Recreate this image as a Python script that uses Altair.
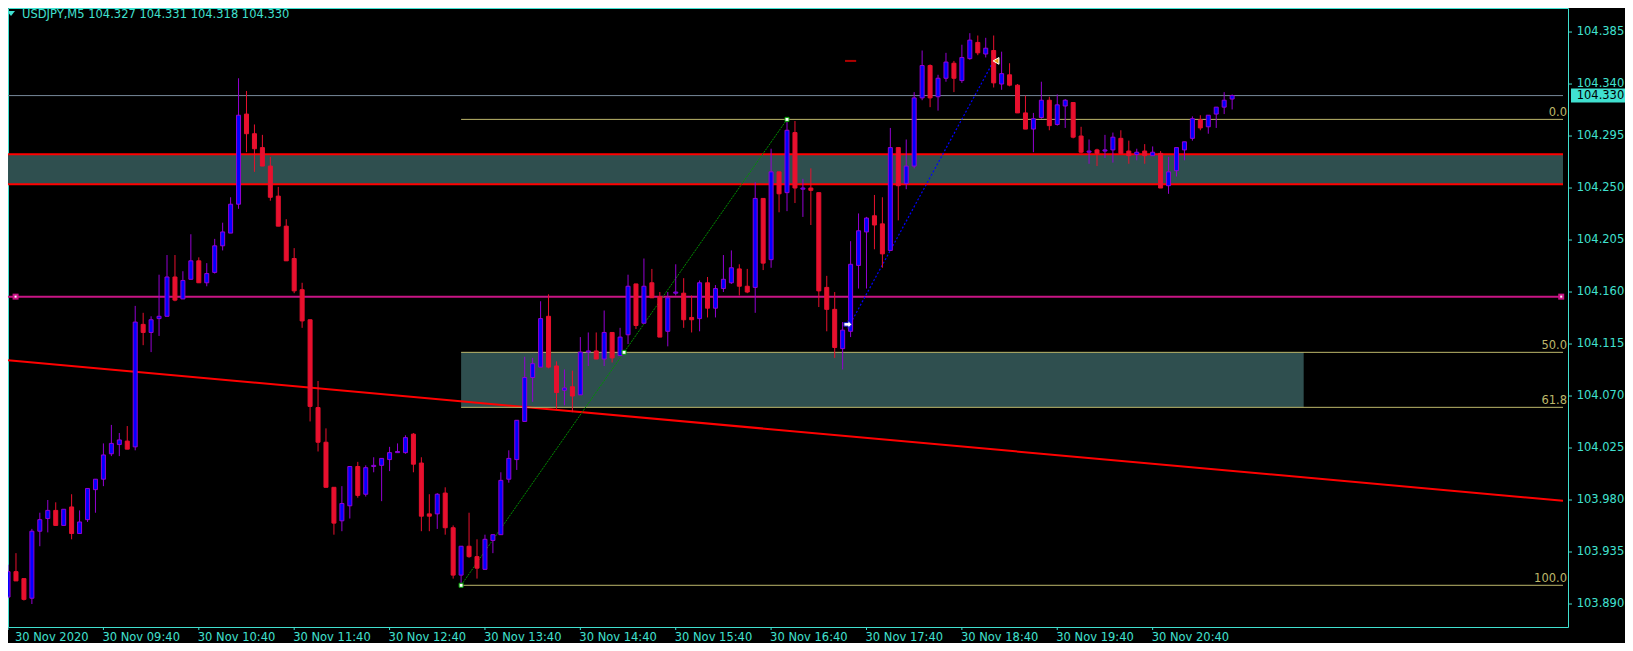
import altair as alt
import pandas as pd

# ---------------- data ----------------
opens = [103.896, 103.918, 103.912, 103.895, 103.953, 103.964, 103.971, 103.958, 103.974, 103.951,
         103.963, 103.989, 103.998, 104.020, 104.028, 104.031, 104.026, 104.132, 104.125, 104.137,
         104.139, 104.173, 104.154, 104.171, 104.187, 104.168, 104.177, 104.200, 104.211, 104.236,
         104.314, 104.297, 104.285, 104.269, 104.243, 104.217, 104.189, 104.162, 104.136, 104.060,
         104.030, 103.991, 103.962, 103.975, 104.009, 103.985, 104.009, 104.010, 104.015, 104.021,
         104.021, 104.037, 104.012, 103.968, 103.968, 103.986, 103.956, 103.915, 103.940, 103.931,
         103.920, 103.945, 103.950, 103.998, 104.015, 104.048, 104.086, 104.095, 104.139, 104.096,
         104.075, 104.078, 104.071, 104.108, 104.109, 104.102, 104.125, 104.105, 104.123, 104.167,
         104.133, 104.168, 104.156, 104.126, 104.159, 104.159, 104.138, 104.137, 104.168, 104.146,
         104.163, 104.168, 104.180, 104.165, 104.164, 104.241, 104.188, 104.264, 104.246, 104.298,
         104.249, 104.250, 104.246, 104.164, 104.145, 104.111, 104.126, 104.183, 104.212, 104.226,
         104.219, 104.196, 104.285, 104.254, 104.269, 104.328, 104.356, 104.329, 104.345, 104.358,
         104.343, 104.362, 104.376, 104.366, 104.369, 104.340, 104.348, 104.339, 104.315, 104.301,
         104.311, 104.326, 104.305, 104.321, 104.324, 104.295, 104.281, 104.283, 104.282, 104.283,
         104.293, 104.282, 104.279, 104.282, 104.278, 104.280, 104.252, 104.265, 104.283, 104.293,
         104.309, 104.303, 104.314, 104.320, 104.327]
highs = [103.924, 103.934, 103.912, 103.955, 103.969, 103.980, 103.978, 103.972, 103.985, 103.971,
         103.990, 103.998, 104.029, 104.045, 104.038, 104.044, 104.148, 104.142, 104.139, 104.175,
         104.192, 104.192, 104.178, 104.210, 104.190, 104.185, 104.206, 104.220, 104.242, 104.345,
         104.334, 104.305, 104.296, 104.277, 104.251, 104.223, 104.198, 104.168, 104.136, 104.083,
         104.042, 103.991, 103.992, 104.009, 104.013, 104.010, 104.017, 104.016, 104.026, 104.029,
         104.036, 104.038, 104.017, 103.985, 103.986, 103.991, 103.958, 103.940, 103.969, 103.946,
         103.950, 103.950, 104.004, 104.023, 104.049, 104.104, 104.103, 104.152, 104.158, 104.100,
         104.093, 104.092, 104.121, 104.125, 104.125, 104.144, 104.125, 104.129, 104.175, 104.167,
         104.189, 104.180, 104.160, 104.160, 104.184, 104.172, 104.157, 104.170, 104.173, 104.166,
         104.192, 104.196, 104.184, 104.180, 104.255, 104.241, 104.284, 104.264, 104.309, 104.308,
         104.258, 104.267, 104.246, 104.174, 104.160, 104.134, 104.204, 104.228, 104.225, 104.244,
         104.242, 104.302, 104.285, 104.292, 104.333, 104.369, 104.357, 104.348, 104.367, 104.360,
         104.374, 104.384, 104.382, 104.380, 104.382, 104.368, 104.358, 104.340, 104.330, 104.315,
         104.342, 104.329, 104.331, 104.327, 104.324, 104.303, 104.292, 104.284, 104.296, 104.298,
         104.300, 104.291, 104.284, 104.288, 104.286, 104.282, 104.277, 104.285, 104.290, 104.312,
         104.313, 104.313, 104.320, 104.333, 104.331]
lows = [103.896, 103.910, 103.893, 103.890, 103.940, 103.952, 103.958, 103.958, 103.946, 103.951,
        103.961, 103.969, 103.992, 104.018, 104.018, 104.024, 104.023, 104.114, 104.108, 104.122,
        104.139, 104.152, 104.154, 104.171, 104.168, 104.165, 104.176, 104.196, 104.211, 104.232,
        104.281, 104.264, 104.269, 104.239, 104.217, 104.187, 104.159, 104.129, 104.048, 104.022,
        103.991, 103.950, 103.953, 103.964, 103.982, 103.983, 104.004, 103.979, 104.005, 104.021,
        104.020, 104.004, 103.953, 103.953, 103.955, 103.950, 103.912, 103.906, 103.930, 103.912,
        103.920, 103.934, 103.950, 103.995, 104.006, 104.048, 104.065, 104.095, 104.094, 104.059,
        104.062, 104.056, 104.071, 104.096, 104.102, 104.096, 104.099, 104.105, 104.115, 104.128,
        104.133, 104.155, 104.121, 104.113, 104.157, 104.129, 104.125, 104.126, 104.138, 104.138,
        104.160, 104.167, 104.157, 104.159, 104.142, 104.179, 104.181, 104.229, 104.230, 104.237,
        104.225, 104.218, 104.147, 104.126, 104.103, 104.093, 104.121, 104.163, 104.163, 104.197,
        104.181, 104.196, 104.222, 104.249, 104.267, 104.326, 104.320, 104.317, 104.342, 104.333,
        104.341, 104.361, 104.365, 104.363, 104.337, 104.335, 104.338, 104.315, 104.301, 104.281,
        104.310, 104.300, 104.304, 104.302, 104.293, 104.280, 104.271, 104.269, 104.276, 104.272,
        104.280, 104.271, 104.274, 104.271, 104.278, 104.250, 104.245, 104.260, 104.274, 104.291,
        104.300, 104.297, 104.302, 104.314, 104.318]
closes = [103.918, 103.910, 103.894, 103.953, 103.963, 103.971, 103.958, 103.972, 103.951, 103.961,
          103.990, 103.998, 104.019, 104.029, 104.032, 104.024, 104.134, 104.125, 104.136, 104.139,
          104.173, 104.153, 104.170, 104.187, 104.168, 104.176, 104.200, 104.212, 104.236, 104.313,
          104.297, 104.284, 104.269, 104.242, 104.217, 104.187, 104.161, 104.135, 104.061, 104.030,
          103.991, 103.960, 103.977, 104.009, 103.984, 104.008, 104.010, 104.016, 104.021, 104.022,
          104.034, 104.011, 103.966, 103.966, 103.985, 103.956, 103.915, 103.940, 103.931, 103.921,
          103.946, 103.950, 103.997, 104.016, 104.049, 104.086, 104.098, 104.137, 104.095, 104.073,
          104.077, 104.070, 104.108, 104.109, 104.102, 104.125, 104.103, 104.121, 104.165, 104.131,
          104.165, 104.155, 104.121, 104.155, 104.160, 104.136, 104.136, 104.168, 104.146, 104.163,
          104.171, 104.181, 104.165, 104.160, 104.241, 104.185, 104.264, 104.245, 104.300, 104.250,
          104.250, 104.248, 104.161, 104.145, 104.112, 104.127, 104.184, 104.213, 104.224, 104.218,
          104.193, 104.285, 104.252, 104.269, 104.328, 104.356, 104.328, 104.345, 104.359, 104.345,
          104.363, 104.378, 104.367, 104.371, 104.341, 104.349, 104.339, 104.315, 104.301, 104.310,
          104.326, 104.304, 104.322, 104.326, 104.294, 104.281, 104.282, 104.280, 104.283, 104.294,
          104.280, 104.278, 104.281, 104.278, 104.281, 104.250, 104.264, 104.285, 104.290, 104.310,
          104.302, 104.313, 104.320, 104.326, 104.330]

x_tick_index = [0, 12, 24, 36, 48, 60, 72, 84, 96, 108, 120, 132, 144]
x_tick_labels = ["30 Nov 2020", "30 Nov 09:40", "30 Nov 10:40", "30 Nov 11:40", "30 Nov 12:40",
                 "30 Nov 13:40", "30 Nov 14:40", "30 Nov 15:40", "30 Nov 16:40", "30 Nov 17:40",
                 "30 Nov 18:40", "30 Nov 19:40", "30 Nov 20:40"]
y_tick_values = [104.385, 104.340, 104.295, 104.250, 104.205, 104.160, 104.115, 104.070,
                 104.025, 103.980, 103.935, 103.890]

title_text = "USDJPY,M5 104.327 104.331 104.318 104.330"
bid_price = 104.330

zone_start, zone_end = [0.0], [195.625]
zone_low, zone_high = [104.2532], [104.2792]

fib_levels = ["0.0", "50.0", "61.8", "100.0"]
fib_prices = [104.3094, 104.1078, 104.0602, 103.9062]
fib_anchor_index = [57, 77.5, 98]
fib_anchor_price = [103.9062, 104.1078, 104.3094]
fib_box_start, fib_box_end = [57], [163]

magenta_price = 104.156
magenta_anchor_index = [0.95, 195.4]

trend_index = [0.0, 195.625]
trend_price = [104.1009, 103.9793]

trade_index = [106, 124]
trade_price = [104.133, 104.360]
open_marker = ([105.66], [104.132])
close_marker = ([124.3], [104.360])
tp_dash_index = ([105.3], [106.7])
tp_dash_price = [104.360]

# ---------------- style ----------------
TURQ = "#40E0D0"
BULL_FILL = "#0000FF"
BULL_LINE = "#9400D3"
BEAR = "#E8102E"
ZONE = "#2F4F4F"
FIB = "#BDB76B"
MAGENTA = "#C71585"
FONT = "DejaVu Sans"
FS = 11.5

W, H = 1560, 619
xscale = alt.Scale(domain=[0.625, 195.625], nice=False, zero=False)
yscale = alt.Scale(domain=[103.8701, 104.4058], nice=False, zero=False)

n = len(opens)
df = pd.DataFrame({"i": list(range(n)), "o": opens, "h": highs, "l": lows, "c": closes})
df["dir"] = ["up" if c >= o else "down" for o, c in zip(opens, closes)]

X = alt.X("i:Q", scale=xscale, axis=None)


def YP(field):
    return alt.Y(field, scale=yscale, axis=None)


# zone rectangle
zone_df = pd.DataFrame({"a": zone_start, "b": zone_end, "lo": zone_low, "hi": zone_high})
zone = alt.Chart(zone_df).mark_rect(color=ZONE, clip=True).encode(
    x=alt.X("a:Q", scale=xscale, axis=None), x2="b:Q", y=YP("lo:Q"), y2="hi:Q")
zone_lines_df = pd.DataFrame({"a": zone_start * 2, "b": zone_end * 2, "p": zone_low + zone_high})
zone_lines = alt.Chart(zone_lines_df).mark_rule(color="#FF0000", strokeWidth=2, clip=True).encode(
    x=alt.X("a:Q", scale=xscale, axis=None), x2="b:Q", y=YP("p:Q"))

# fib box
fib_box_df = pd.DataFrame({"a": fib_box_start, "b": fib_box_end,
                           "lo": [fib_prices[2]], "hi": [fib_prices[1]]})
fib_box = alt.Chart(fib_box_df).mark_rect(color=ZONE).encode(
    x=alt.X("a:Q", scale=xscale, axis=None), x2="b:Q", y=YP("lo:Q"), y2="hi:Q")

fib_df = pd.DataFrame({"a": [fib_anchor_index[0]] * 4, "b": [zone_end[0]] * 4,
                       "p": fib_prices, "lab": fib_levels})
fib_lines = alt.Chart(fib_df).mark_rule(color=FIB, strokeWidth=1, clip=True).encode(
    x=alt.X("a:Q", scale=xscale, axis=None), x2="b:Q", y=YP("p:Q"))
fib_text = alt.Chart(fib_df).mark_text(color=FIB, font=FONT, fontSize=FS, align="right",
                                       baseline="bottom", dy=-1).encode(
    x=alt.value(W - 1), y=YP("p:Q"), text="lab:N")

fib_diag_df = pd.DataFrame({"i": [fib_anchor_index[0], fib_anchor_index[2]],
                            "p": [fib_anchor_price[0], fib_anchor_price[2]]})
fib_diag = alt.Chart(fib_diag_df).mark_line(color="#009000", strokeWidth=1, strokeDash=[2, 1]).encode(
    x=alt.X("i:Q", scale=xscale, axis=None), y=YP("p:Q"))

# horizontal lines
hl_df = pd.DataFrame({"a": [zone_start[0]], "b": [zone_end[0]], "p": [bid_price]})
bid_line = alt.Chart(hl_df).mark_rule(color="#778899", strokeWidth=1, clip=True).encode(
    x=alt.X("a:Q", scale=xscale, axis=None), x2="b:Q", y=YP("p:Q"))
mg_df = pd.DataFrame({"a": [zone_start[0]], "b": [zone_end[0]], "p": [magenta_price]})
mg_line = alt.Chart(mg_df).mark_rule(color=MAGENTA, strokeWidth=2, clip=True).encode(
    x=alt.X("a:Q", scale=xscale, axis=None), x2="b:Q", y=YP("p:Q"))
mg_pts_df = pd.DataFrame({"i": magenta_anchor_index, "p": [magenta_price] * 2})
mg_pts = alt.Chart(mg_pts_df).mark_square(color=MAGENTA, size=36, opacity=1).encode(
    x=alt.X("i:Q", scale=xscale, axis=None), y=YP("p:Q"))
mg_pts2 = alt.Chart(mg_pts_df).mark_square(color="white", size=4, opacity=1).encode(
    x=alt.X("i:Q", scale=xscale, axis=None), y=YP("p:Q"))

# trend line
tr_df = pd.DataFrame({"i": trend_index, "p": trend_price})
trend = alt.Chart(tr_df).mark_line(color="#FF0000", strokeWidth=2, clip=True).encode(
    x=alt.X("i:Q", scale=xscale, axis=None), y=YP("p:Q"))

# trade line
td_df = pd.DataFrame({"i": trade_index, "p": trade_price})
trade = alt.Chart(td_df).mark_line(color="#0000FF", strokeWidth=1.2, strokeDash=[2, 2]).encode(
    x=alt.X("i:Q", scale=xscale, axis=None), y=YP("p:Q"))

# candles
updown = ["up", "down"]
wick = alt.Chart(df).mark_rule(strokeWidth=1, clip=True).encode(
    x=X, y=YP("l:Q"), y2="h:Q",
    stroke=alt.Stroke("dir:N", scale=alt.Scale(domain=updown, range=[BULL_LINE, BEAR]), legend=None))
body = alt.Chart(df).mark_bar(size=4, strokeWidth=1, clip=True).encode(
    x=X, y=YP("o:Q"), y2="c:Q",
    fill=alt.Fill("dir:N", scale=alt.Scale(domain=updown, range=[BULL_FILL, BEAR]), legend=None),
    stroke=alt.Stroke("dir:N", scale=alt.Scale(domain=updown, range=[BULL_LINE, BEAR]), legend=None))

# fib anchors
fa_df = pd.DataFrame({"i": fib_anchor_index, "p": fib_anchor_price})
fib_anchors = alt.Chart(fa_df).mark_square(size=16, fill="white", stroke="#00A000", strokeWidth=1,
                                           opacity=1).encode(
    x=alt.X("i:Q", scale=xscale, axis=None), y=YP("p:Q"))

# trade markers
om_df = pd.DataFrame({"i": open_marker[0], "p": open_marker[1]})
arrow_path = "M-1,-0.45 L0.05,-0.45 L0.05,-1 L1,0 L0.05,1 L0.05,0.45 L-1,0.45 Z"
open_m = alt.Chart(om_df).mark_point(shape=arrow_path, size=64, filled=True, fill="white",
                                     stroke="#1010C0", strokeWidth=1, opacity=1).encode(
    x=alt.X("i:Q", scale=xscale, axis=None), y=YP("p:Q"))
cm_df = pd.DataFrame({"i": close_marker[0], "p": close_marker[1]})
close_m = alt.Chart(cm_df).mark_point(shape="triangle-left", size=45, filled=True, fill="#E8A317",
                                      stroke="white", strokeWidth=1, opacity=1).encode(
    x=alt.X("i:Q", scale=xscale, axis=None), y=YP("p:Q"))
tp_df = pd.DataFrame({"a": tp_dash_index[0], "b": tp_dash_index[1], "p": tp_dash_price})
tp = alt.Chart(tp_df).mark_rule(color="#B00000", strokeWidth=2).encode(
    x=alt.X("a:Q", scale=xscale, axis=None), x2="b:Q", y=YP("p:Q"))

# x axis (MT4 style, left-aligned labels)
xl_df = pd.DataFrame({"i": x_tick_index, "lab": x_tick_labels})
x_ticks = alt.Chart(xl_df).mark_rule(color=TURQ, strokeWidth=1).encode(
    x=alt.X("i:Q", scale=xscale, axis=None), y=alt.value(H), y2=alt.value(H + 3))
x_labels = alt.Chart(xl_df).transform_calculate(xp="max(datum.i, 1.0)").mark_text(
    color=TURQ, font=FONT, fontSize=FS, align="left", baseline="middle", dx=-1).encode(
    x=alt.X("xp:Q", scale=xscale, axis=None), y=alt.value(H + 11), text="lab:N")

# y axis (right side)
yl_df = pd.DataFrame({"p": y_tick_values, "lab": [f"{v:.3f}" for v in y_tick_values]})
y_ticks = alt.Chart(yl_df).mark_rule(color=TURQ, strokeWidth=1).encode(
    x=alt.value(W), x2=alt.value(W + 4), y=YP("p:Q"))
y_labels = alt.Chart(yl_df).mark_text(color=TURQ, font=FONT, fontSize=FS, align="left",
                                      baseline="middle").encode(
    x=alt.value(W + 8.7), y=YP("p:Q"), text="lab:N")

# price box on the right axis
pb_df = pd.DataFrame({"p": [bid_price], "lab": [f"{bid_price:.3f}"]})
price_box = alt.Chart(pb_df).mark_rule(color=TURQ, strokeWidth=14, strokeCap="butt").encode(
    x=alt.value(W + 3), x2=alt.value(W + 59), y=YP("p:Q"))
price_txt = alt.Chart(pb_df).mark_text(color="black", font=FONT, fontSize=FS, align="left",
                                       baseline="middle").encode(
    x=alt.value(W + 8.7), y=YP("p:Q"), text="lab:N")

# title
t_df = pd.DataFrame({"t": [title_text]})
title = alt.Chart(t_df).mark_text(color=TURQ, font=FONT, fontSize=FS, align="left",
                                  baseline="alphabetic").encode(
    x=alt.value(14), y=alt.value(10), text="t:N")
tri = alt.Chart(t_df).mark_point(shape="M-1,-0.6 L1,-0.6 L0,0.6 Z", size=64, filled=True,
                                 color=TURQ, opacity=1).encode(x=alt.value(3), y=alt.value(5.5))

chart = alt.layer(
    zone, fib_box, trend, zone_lines, fib_lines, bid_line, mg_line, fib_diag, trade,
    wick, body, fib_anchors, mg_pts, mg_pts2, open_m, close_m, tp,
    fib_text, x_ticks, x_labels, y_ticks, y_labels, price_box, price_txt, title, tri
).properties(
    width=W, height=H, background="black",
    padding={"left": 0, "top": 0, "right": 57, "bottom": 16},
    autosize=alt.AutoSizeParams(type="none"),
).configure_view(stroke=TURQ, strokeWidth=1)

chart.save("out.html", embed_options={"renderer": "svg", "actions": False})
